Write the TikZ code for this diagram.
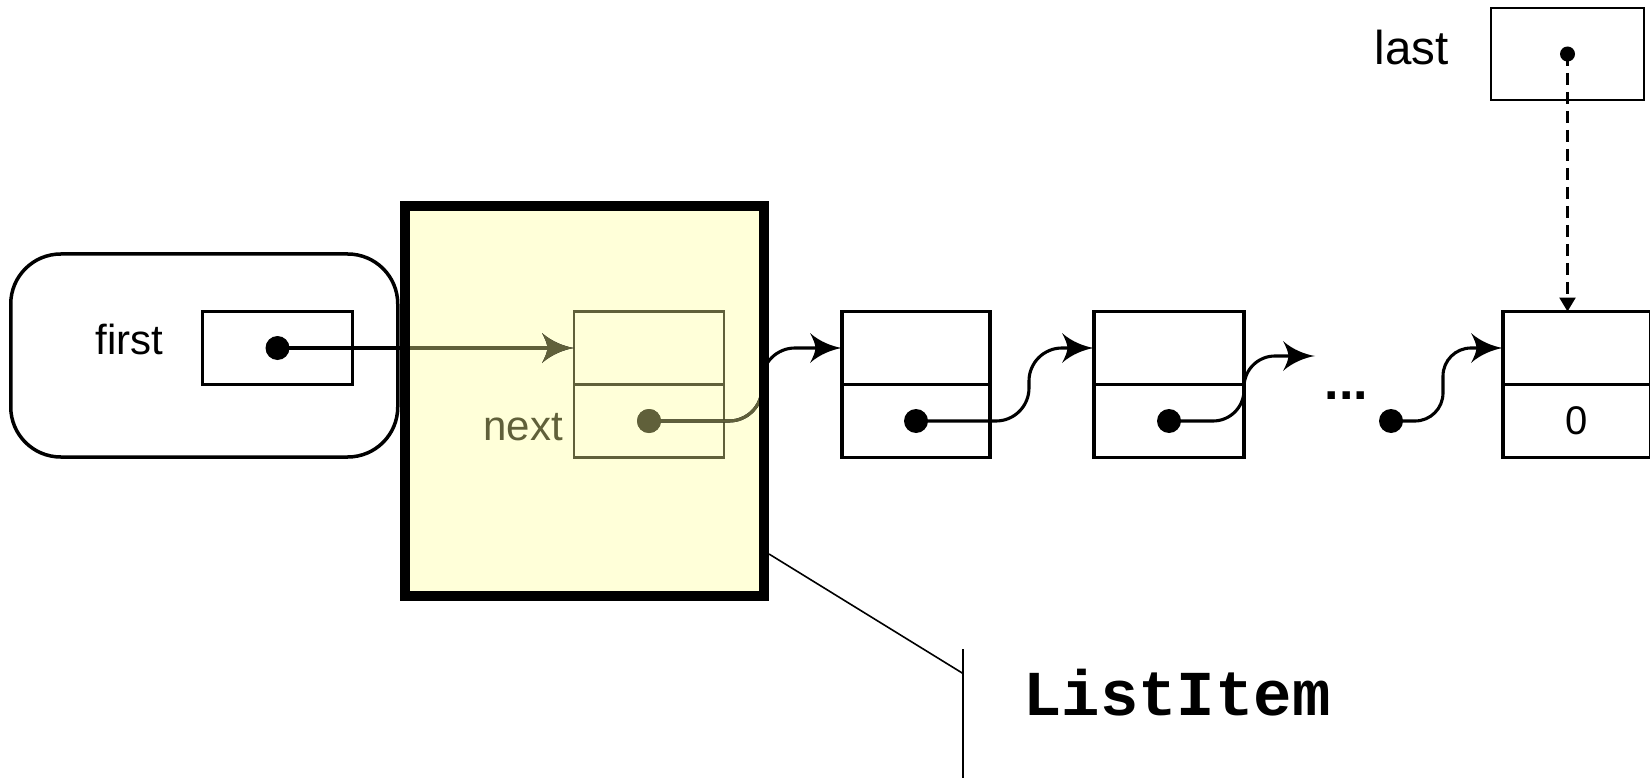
\documentclass[tikz,border=0pt]{standalone}
\usepackage{fontspec}
\setmainfont{Liberation Sans}
\newfontfamily\codefont{Liberation Mono}
\usetikzlibrary{arrows.meta}
\definecolor{itemfill}{RGB}{255,255,217}
\definecolor{itemink}{RGB}{96,96,58}

% barbed arrow tip with curved flanks and a shallow notched back
\pgfdeclarearrow{
  name = Barb,
  parameters = {\the\pgfarrowlength,\the\pgfarrowwidth},
  setup code = {
    \pgfarrowssettipend{0pt}
    \pgfarrowssetlineend{-0.7\pgfarrowlength}
    \pgfarrowssetvisualbackend{-\pgfarrowlength}
    \pgfarrowssetbackend{-\pgfarrowlength}
    \pgfarrowshullpoint{0pt}{0pt}
    \pgfarrowshullpoint{-\pgfarrowlength}{.5\pgfarrowwidth}
    \pgfarrowshullpoint{-\pgfarrowlength}{-.5\pgfarrowwidth}
    \pgfarrowssavethe\pgfarrowlength
    \pgfarrowssavethe\pgfarrowwidth
  },
  drawing code = {
    \pgfpathmoveto{\pgfpointorigin}
    \pgfpathcurveto{\pgfpoint{-.3\pgfarrowlength}{.05\pgfarrowwidth}}{\pgfpoint{-.7\pgfarrowlength}{.21\pgfarrowwidth}}{\pgfpoint{-\pgfarrowlength}{.5\pgfarrowwidth}}
    \pgfpathcurveto{\pgfpoint{-.9\pgfarrowlength}{.3\pgfarrowwidth}}{\pgfpoint{-.83\pgfarrowlength}{.12\pgfarrowwidth}}{\pgfpoint{-.83\pgfarrowlength}{0pt}}
    \pgfpathcurveto{\pgfpoint{-.83\pgfarrowlength}{-.12\pgfarrowwidth}}{\pgfpoint{-.9\pgfarrowlength}{-.3\pgfarrowwidth}}{\pgfpoint{-\pgfarrowlength}{-.5\pgfarrowwidth}}
    \pgfpathcurveto{\pgfpoint{-.7\pgfarrowlength}{-.21\pgfarrowwidth}}{\pgfpoint{-.3\pgfarrowlength}{-.05\pgfarrowwidth}}{\pgfpointorigin}
    \pgfpathclose
    \pgfusepathqfill
  },
  defaults = {length=32pt, width=30pt}
}

\begin{document}
\begin{tikzpicture}[x=1pt,y=-1pt,
  cell/.style={draw, line width=3.1pt, minimum width=148pt, minimum height=73pt,
    inner sep=0pt, outer sep=0pt},
  olivecell/.style={cell, draw=itemink, line width=2.8pt, minimum width=150pt},
  ptr/.style={circle, fill, inner sep=0pt, outer sep=0pt, minimum size=24pt},
  link/.style={line width=3.1pt, rounded corners=33pt, -{Barb}},
  lbl/.style={inner sep=0pt, font=\fontsize{42}{50}\selectfont},
]
\useasboundingbox (0,0) rectangle (1650,778);
\clip (0,0) rectangle (1650,778);

% container holding the head pointer
\node[draw, line width=3.5pt, rounded corners=50pt, minimum width=387pt,
      minimum height=203pt, inner sep=0pt, outer sep=0pt] (holder) at (204.25,355.5) {};
\node[lbl, anchor=base] (firstlbl) at (129.5,354) {first};
\node[cell, minimum width=150pt] (firstbox) at (277.5,348) {};

% highlighted list item
\node[fill=itemfill, minimum width=359pt, minimum height=390pt,
      inner sep=0pt, outer sep=0pt] (item) at (584.5,401) {};
\node[olivecell] (ftop) at (649,348) {};
\node[olivecell] (fbot) at (649,421) {};
\node[lbl, text=itemink, anchor=base east] (nextlbl) at (563,440) {next};

% further list items
\node[cell] (b1t) at (916,348) {};
\node[cell] (b1b) at (916,421) {};
\node[cell, minimum width=150pt] (b2t) at (1169,348) {};
\node[cell, minimum width=150pt] (b2b) at (1169,421) {};
\node[cell] (lt) at (1577,348) {};
\node[cell] (lb) at (1577,421) {\fontsize{40}{48}\selectfont 0};

% tail pointer
\node[cell, line width=2.6pt, minimum width=153pt, minimum height=92pt] (lastbox) at (1567.5,54) {};
\node[lbl, font=\fontsize{47.5}{56}\selectfont, anchor=base east] (lastlbl) at (1449,65) {last};
\node[inner sep=0pt, anchor=base, font=\bfseries\fontsize{52}{60}\selectfont] (more) at (1346.5,399) {...};

% pointer dots
\node[ptr] (d0) at (firstbox.center) {};
\node[ptr, fill=itemink] (d1) at (fbot.center) {};
\node[ptr] (d2) at (b1b.center) {};
\node[ptr] (d3) at (b2b.center) {};
\node[ptr] (d4) at (1391,421) {};
\node[ptr, minimum size=15pt] (dl) at (lastbox.center) {};
\coordinate (tail) at (1315,356);

% links between items
\draw[link] (d0.center) -- (ftop.west);
\draw[link] (d1.center) -- (762,421) -- (762,348) -- (b1t.west);
\draw[link] (d2.center) -- (1029,421) -- (1029,348) -- (b2t.west);
\draw[link, rounded corners=31pt] (d3.center) -- (1244,421) -- (1244,356) -- (tail);
\draw[link, rounded corners=28pt] (d4.center) -- (1443,421) -- (1443,348) -- (lt.west);
\begin{scope}
  \clip (item.north west) rectangle (item.south east);
  \draw[link, itemink] (d0.center) -- (ftop.west);
  \draw[link, itemink] (d1.center) -- (762,421) -- (762,348) -- (b1t.west);
\end{scope}
\node[ptr, fill=itemink] at (d1) {};
\draw[line width=10pt] (item.north west) rectangle (item.south east);

% tail pointer reference
\draw[line width=2.5pt, dash pattern=on 12pt off 7pt,
      -{Triangle[length=14pt,width=16pt]}] (dl.center) -- (dl.center |- lt.north);

% class annotation
\coordinate (cA) at (769,554);
\coordinate (cB) at (963,673.5);
\coordinate (cT) at (963,649);
\coordinate (cE) at (963,790);
\draw[line width=1.6pt] (cA) -- (cB);
\draw[line width=1.6pt] (cT) -- (cE);
\node[inner sep=0pt, anchor=base west,
      font=\codefont\bfseries\fontsize{64}{72}\selectfont] (classname) at (1023,715.6) {ListItem};
\end{tikzpicture}
\end{document}
